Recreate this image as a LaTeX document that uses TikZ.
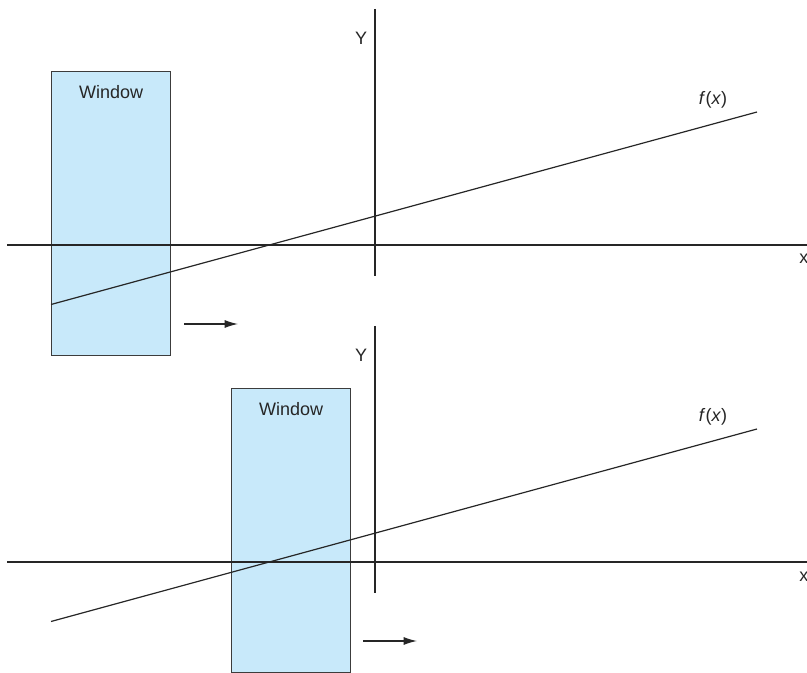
\documentclass[tikz,border=0pt]{standalone}
\usepackage{fontspec}
\setmainfont{Liberation Sans}
\usetikzlibrary{arrows.meta, positioning}

\definecolor{winfill}{RGB}{200,233,250}
\definecolor{winline}{RGB}{60,60,60}

\begin{document}
\begin{tikzpicture}[
    x=0.75pt, y=-0.75pt,
    font=\fontsize{13.5}{16}\selectfont,
    window/.style={rectangle, draw=winline, fill=winfill, line width=0.9pt, minimum width=89.25pt, minimum height=213pt, anchor=north west, inner sep=0pt},
    axis/.style={line width=0.9pt, black!85},
    fline/.style={line width=0.9pt, black!85},
    lbl/.style={inner sep=0pt, text=black!85},
    arrow/.style={-{Latex[length=10pt, width=6pt]}, line width=0.9pt, black!85}]
    \useasboundingbox (0,0) rectangle (807,673);

    % Top panel
    \node[window] (topwin) at (51,71) {};
    \node[lbl, anchor=base] (topwinlbl) at ([yshift=-20.5pt]topwin.north) {Window};
    \coordinate (topxa) at (7,245);
    \coordinate (topxb) at (807,245);
    \coordinate (topya) at (375,9);
    \coordinate (topyb) at (375,276);
    \draw[axis] (topxa) -- (topxb);
    \draw[axis] (topya) -- (topyb);
    \node[lbl, anchor=base] (topylbl) at (361,45) {Y};
    \node[lbl, anchor=base west] (topxlbl) at (799,264) {x};
    \coordinate (topfa) at (51,304.5);
    \coordinate (topfb) at (757,112);
    \draw[fline] (topfa) -- (topfb);
    \node[lbl, anchor=base] (topflbl) at (713,105) {\textit{f}(\textit{x})};
    \coordinate (toparra) at (184,324);
    \coordinate (toparrb) at (238,324);
    \draw[arrow] (toparra) -- (toparrb);

    % Bottom panel
    \begin{scope}[shift={(0,317)}]
    \node[window] (botwin) at (231,71) {};
    \node[lbl, anchor=base] (botwinlbl) at ([yshift=-20.5pt]botwin.north) {Window};
    \coordinate (botxa) at (7,245);
    \coordinate (botxb) at (807,245);
    \coordinate (botya) at (375,9);
    \coordinate (botyb) at (375,276);
    \draw[axis] (botxa) -- (botxb);
    \draw[axis] (botya) -- (botyb);
    \node[lbl, anchor=base] (botylbl) at (361,45) {Y};
    \node[lbl, anchor=base west] (botxlbl) at (799,264) {x};
    \coordinate (botfa) at (51,304.5);
    \coordinate (botfb) at (757,112);
    \draw[fline] (botfa) -- (botfb);
    \node[lbl, anchor=base] (botflbl) at (713,105) {\textit{f}(\textit{x})};
    \coordinate (botarra) at (363,324);
    \coordinate (botarrb) at (417,324);
    \draw[arrow] (botarra) -- (botarrb);
    \end{scope}
\end{tikzpicture}
\end{document}
